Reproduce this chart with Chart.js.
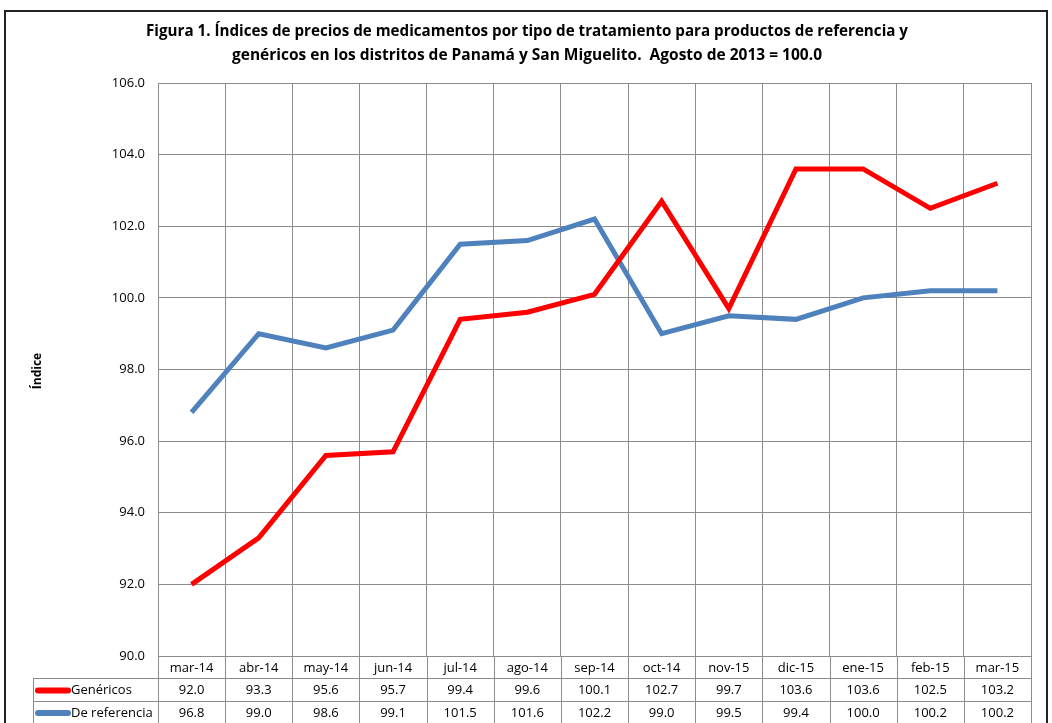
<!DOCTYPE html>
<html>
<head>
<meta charset="utf-8">
<script src="https://cdn.jsdelivr.net/npm/chart.js@4"></script>
<style>
  body { margin: 0; background: #fff; }
  #wrap { width: 1052px; height: 723px; }
</style>
</head>
<body>
<div id="wrap"><canvas id="indices_chart" width="1052" height="723"></canvas></div>
<script>
// datos
let meses = ["mar-14","abr-14","may-14","jun-14","jul-14","ago-14","sep-14","oct-14","nov-15","dic-15","ene-15","feb-15","mar-15"];
let genericos = [92.0,93.3,95.6,95.7,99.4,99.6,100.1,102.7,99.7,103.6,103.6,102.5,103.2];
let referencia = [96.8,99.0,98.6,99.1,101.5,101.6,102.2,99.0,99.5,99.4,100.0,100.2,100.2];
let yTicks = [90,92,94,96,98,100,102,104,106];

let titulo1 = "Figura 1. Índices de precios de medicamentos por tipo de tratamiento para productos de referencia y";
let titulo2 = "genéricos en los distritos de Panamá y San Miguelito.  Agosto de 2013 = 100.0";

let fuente = "'Open Sans', 'Noto Sans', sans-serif";
let gridColor = "#8c8c8c";
let rojo = "#ff0000";
let azul = "#4f81bd";

// marco, titulo, titulo del eje y la tabla de datos abajo
let tablaPlugin = {
    id: "tabla",
    afterDraw: function(chart){
        let ctx = chart.ctx;
        let x = chart.scales.x;
        let area = chart.chartArea;
        let n = meses.length;
        let paso = (area.right - area.left) / n;
        let fila0 = area.bottom;
        let fila1 = fila0 + 22;
        let fila2 = fila1 + 23;
        let fondo = chart.height;
        let izq = 33;

        ctx.save();
        // marco exterior
        ctx.strokeStyle = "#222";
        ctx.lineWidth = 2;
        ctx.beginPath();
        ctx.moveTo(5, fondo + 5);
        ctx.lineTo(5, 11);
        ctx.lineTo(1047, 11);
        ctx.lineTo(1047, fondo + 5);
        ctx.stroke();

        // titulo
        ctx.fillStyle = "#000";
        ctx.font = "bold 16px " + fuente;
        ctx.textAlign = "center";
        ctx.textBaseline = "middle";
        ctx.fillText(titulo1, 527, 31, 762);
        ctx.fillText(titulo2, 527, 55, 590);

        // titulo eje y
        ctx.save();
        ctx.translate(38, 371);
        ctx.rotate(-Math.PI / 2);
        ctx.font = "bold 12px " + fuente;
        ctx.fillText("Índice", 0, 0);
        ctx.restore();

        // lineas de la tabla
        ctx.strokeStyle = gridColor;
        ctx.lineWidth = 1;
        ctx.beginPath();
        for (let i = 0; i <= n; i++){
            let px = Math.round(area.left + i * paso) + 0.5;
            ctx.moveTo(px, fila0);
            ctx.lineTo(px, fondo);
        }
        ctx.moveTo(izq + 0.5, fila1);
        ctx.lineTo(izq + 0.5, fondo);
        ctx.moveTo(izq, fila1 + 0.5);
        ctx.lineTo(area.right, fila1 + 0.5);
        ctx.moveTo(izq, fila2 + 0.5);
        ctx.lineTo(area.right, fila2 + 0.5);
        ctx.stroke();

        // textos
        ctx.fillStyle = "#000";
        ctx.font = "13px " + fuente;
        ctx.textAlign = "center";
        for (let i = 0; i < n; i++){
            let cx = x.getPixelForValue(i);
            ctx.fillText(meses[i], cx, (fila0 + fila1) / 2 + 1);
            ctx.fillText(genericos[i].toFixed(1), cx, (fila1 + fila2) / 2 + 1);
            ctx.fillText(referencia[i].toFixed(1), cx, fila2 + 12);
        }

        // leyenda dentro de la tabla
        let series = [["Genéricos", rojo, (fila1 + fila2) / 2 + 1], ["De referencia", azul, fila2 + 12]];
        series.forEach(s => {
            ctx.strokeStyle = s[1];
            ctx.lineWidth = 6;
            ctx.lineCap = "round";
            ctx.beginPath();
            ctx.moveTo(38, s[2]);
            ctx.lineTo(68, s[2]);
            ctx.stroke();
            ctx.fillStyle = "#000";
            ctx.textAlign = "left";
            ctx.fillText(s[0], 71, s[2]);
        });
        ctx.restore();
    }
};

new Chart("indices_chart", {
    type: "line",
    data: {
        labels: meses,
        datasets: [{
            label: "Genéricos",
            data: genericos,
            borderColor: rojo,
            backgroundColor: rojo,
            borderWidth: 5,
            pointRadius: 0,
            tension: 0
        },{
            label: "De referencia",
            data: referencia,
            borderColor: azul,
            backgroundColor: azul,
            borderWidth: 5,
            pointRadius: 0,
            tension: 0
        }]
    },
    options: {
        responsive: false,
        animation: false,
        layout: { padding: { top: 83, right: 21, left: 0, bottom: 0 } },
        plugins: {
            legend: { display: false },
            title: { display: false },
            tooltip: { enabled: false }
        },
        scales: {
            x: {
                offset: true,
                grid: { offset: true, color: gridColor, drawTicks: false },
                border: { color: gridColor },
                ticks: { display: false },
                afterFit: function(s){ s.height = 67; }
            },
            y: {
                min: 90,
                max: 106,
                afterBuildTicks: function(s){ s.ticks = yTicks.map(v => ({ value: v })); },
                grid: { color: gridColor, drawTicks: false },
                border: { color: gridColor },
                ticks: {
                    padding: 13,
                    color: "#000",
                    font: { family: fuente, size: 13 },
                    callback: function(v){ return Number(v).toFixed(1); }
                },
                afterFit: function(s){ s.width = 158; }
            }
        }
    },
    plugins: [tablaPlugin]
});
</script>
</body>
</html>
